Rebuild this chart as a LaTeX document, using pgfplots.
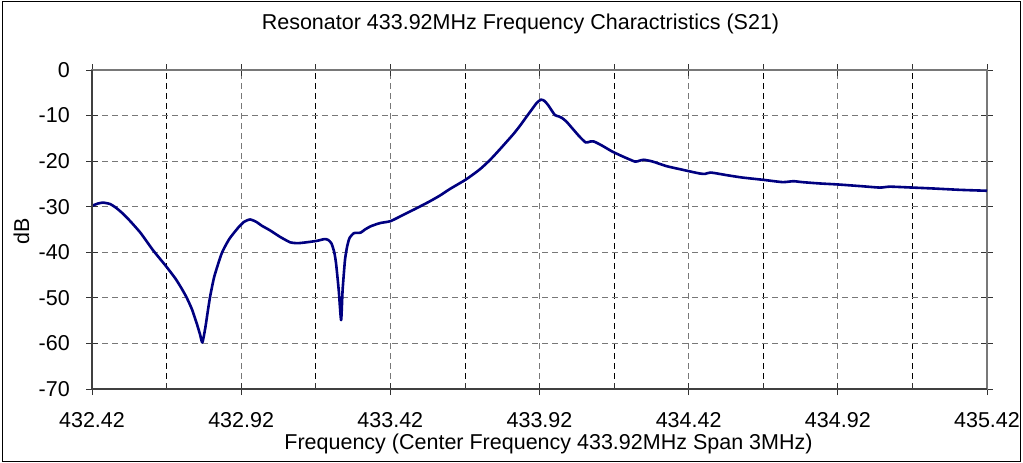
\documentclass[border=0pt]{standalone}
\usepackage{pgfplots}
\pgfplotsset{compat=1.18}
\usepackage{fontspec}
\setmainfont{Liberation Sans}
\definecolor{curve}{RGB}{0,0,128}
\definecolor{gridgray}{RGB}{120,120,120}
\pgfplotstableread{
f db
432.42 -29.8
432.44 -29.3
432.457 -29.1
432.48 -29.4
432.50 -30.2
432.525 -31.6
432.55 -33.3
432.581 -35.6
432.60 -37.3
432.624 -39.5
432.65 -41.6
432.67 -43.2
432.70 -45.8
432.72 -47.9
432.737 -49.9
432.755 -52.5
432.771 -55.6
432.782 -58.0
432.79 -59.8
432.80 -56.5
432.808 -53.0
432.816 -49.7
432.83 -45.3
432.855 -40.2
432.88 -37.1
432.91 -34.6
432.93 -33.3
432.95 -32.8
432.97 -33.3
432.99 -34.2
433.017 -35.2
433.05 -36.6
433.084 -37.8
433.11 -38.0
433.14 -37.8
433.173 -37.5
433.2 -37.1
433.212 -37.3
433.223 -38.1
433.232 -40.0
433.238 -42.4
433.247 -48.3
433.255 -54.9
433.26 -48.3
433.268 -41.7
433.275 -38.8
433.283 -36.9
433.298 -35.8
433.32 -35.7
433.335 -35.0
433.354 -34.3
433.385 -33.6
433.419 -33.2
433.445 -32.4
433.475 -31.4
433.50 -30.6
433.55 -28.9
433.585 -27.6
433.62 -26.1
433.674 -24.0
433.72 -21.8
433.754 -19.75
433.79 -17.2
433.832 -14.1
433.855 -12.2
433.877 -10.2
433.895 -8.6
433.911 -7.2
433.925 -6.5
433.937 -6.8
433.95 -7.8
433.962 -9.0
433.972 -9.9
433.985 -10.2
433.995 -10.5
434.01 -11.3
434.03 -12.8
434.054 -14.6
434.075 -15.9
434.09 -15.7
434.103 -15.7
434.13 -16.6
434.164 -17.9
434.20 -19.0
434.24 -20.1
434.255 -19.9
434.27 -19.7
434.30 -20.1
434.346 -21.1
434.40 -21.9
434.456 -22.7
434.475 -22.8
434.494 -22.5
434.55 -23.1
434.60 -23.6
434.67 -24.1
434.735 -24.6
434.771 -24.4
434.80 -24.6
434.86 -24.9
434.916 -25.1
435.0 -25.5
435.061 -25.8
435.095 -25.6
435.17 -25.8
435.24 -26.0
435.33 -26.3
435.42 -26.5
}\sdata
\begin{document}
\begin{tikzpicture}
\useasboundingbox (0,0) rectangle (1023bp,463bp);
\draw[black, line width=1bp] (2.5bp,1.5bp) rectangle (1020.5bp,461.5bp);
\begin{axis}[
  at={(92bp,74bp)}, anchor=south west,
  scale only axis, width=895bp, height=319bp,
  xmin=432.42, xmax=435.42, ymin=-70, ymax=0,
  xtick={432.42,432.92,433.42,433.92,434.42,434.92,435.42},
  xticklabels={432.42,432.92,433.42,433.92,434.42,434.92,435.42},
  minor xtick={432.67,433.17,433.67,434.17,434.67,435.17},
  ytick={-70,-60,-50,-40,-30,-20,-10,0},
  yticklabels={-70,-60,-50,-40,-30,-20,-10,0},
  tick align=center,
  major tick length=12bp, minor tick length=6bp,
  every minor tick/.append style={yshift=3bp},
  tick style={black!80, line width=0.8bp},
  xmajorgrids, xminorgrids, ymajorgrids,
  major grid style={gridgray, line width=0.8bp, dash pattern=on 6bp off 4bp},
  minor grid style={black, line width=0.8bp, dash pattern=on 6bp off 4bp},
  axis line style={gridgray, line width=1.5bp},
  ticklabel style={font=\fontsize{21.5bp}{24bp}\selectfont},
  xticklabel style={anchor=base, inner sep=0pt, yshift=-32bp},
  yticklabel style={anchor=east, inner sep=0pt, xshift=-16bp},
  clip=false,
]
\addplot[curve, line width=2.6bp, line join=round, smooth, tension=0.35] table[x=f, y=db] {\sdata};
\draw[black!75, line width=1.5bp] (rel axis cs:0,1) -- (rel axis cs:0,0) -- (rel axis cs:1,0);
\end{axis}
\node[anchor=base, font=\fontsize{21.5bp}{24bp}\selectfont] at (520.5bp,433.7bp) {Resonator 433.92MHz Frequency Charactristics (S21)};
\node[anchor=base, font=\fontsize{21.5bp}{24bp}\selectfont] at (548.5bp,14bp) {Frequency (Center Frequency 433.92MHz Span 3MHz)};
\node[anchor=base, rotate=90, font=\fontsize{21.5bp}{24bp}\selectfont] at (29bp,232bp) {dB};
\end{tikzpicture}
\end{document}
